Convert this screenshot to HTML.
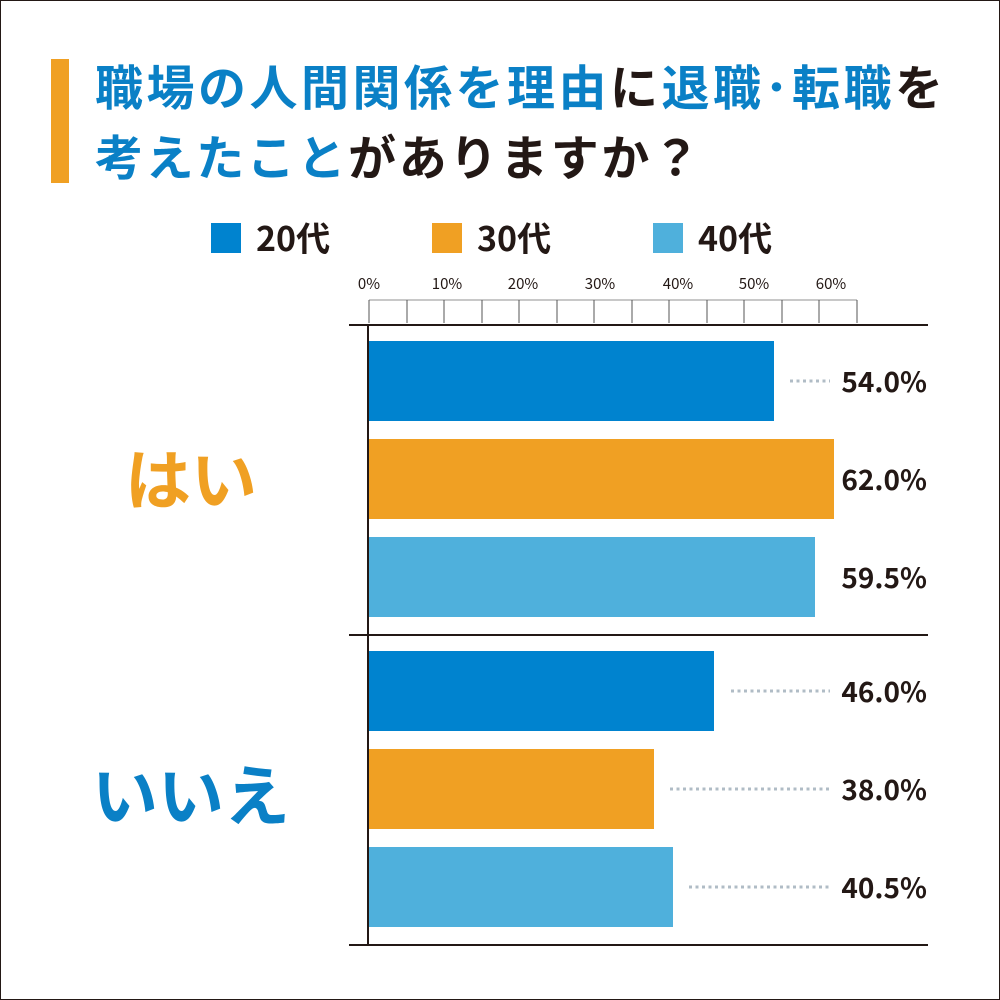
<!DOCTYPE html>
<html><head><meta charset="utf-8"><style>
html,body{margin:0;padding:0;background:#fff}
svg{display:block}
text{font-family:"Noto Sans CJK JP","Liberation Sans",sans-serif}
</style></head><body>
<svg width="1000" height="1000" viewBox="0 0 1000 1000" xmlns="http://www.w3.org/2000/svg">
<rect x="0.5" y="0.5" width="999" height="999" fill="#fff" stroke="#231815" stroke-width="1"/>
<rect x="51" y="59" width="18" height="124" fill="#f0a023"/>
<text x="95" y="105" font-size="48" font-weight="bold" fill="#0a80c6" textLength="848" lengthAdjust="spacing">職場の人間関係を理由<tspan fill="#231815">に</tspan>退職･転職<tspan fill="#231815">を</tspan></text>
<text x="95" y="175" font-size="48" font-weight="bold" fill="#0a80c6" textLength="605" lengthAdjust="spacing">考えたこと<tspan fill="#231815">がありますか？</tspan></text>
<rect x="211" y="223" width="30" height="30" fill="#0083cf"/>
<text x="256" y="251" font-size="34" font-weight="bold" fill="#231815">20代</text>
<rect x="432" y="223" width="30" height="30" fill="#f0a023"/>
<text x="477" y="251" font-size="34" font-weight="bold" fill="#231815">30代</text>
<rect x="653" y="223" width="30" height="30" fill="#4fb0dc"/>
<text x="698" y="251" font-size="34" font-weight="bold" fill="#231815">40代</text>
<g font-size="15" fill="#231815" text-anchor="middle">
<text x="369" y="289">0%</text><text x="447" y="289">10%</text><text x="523" y="289">20%</text><text x="600" y="289">30%</text><text x="678" y="289">40%</text><text x="754" y="289">50%</text><text x="831" y="289">60%</text>
</g>
<line x1="369" y1="300" x2="857" y2="300" stroke="#b5b5b5" stroke-width="1.5"/>
<g stroke="#555" stroke-width="1">
<line x1="369" y1="300" x2="369" y2="323"/><line x1="407" y1="300" x2="407" y2="323"/><line x1="444" y1="300" x2="444" y2="323"/><line x1="482" y1="300" x2="482" y2="323"/><line x1="519" y1="300" x2="519" y2="323"/><line x1="557" y1="300" x2="557" y2="323"/><line x1="594" y1="300" x2="594" y2="323"/><line x1="632" y1="300" x2="632" y2="323"/><line x1="669" y1="300" x2="669" y2="323"/><line x1="707" y1="300" x2="707" y2="323"/><line x1="744" y1="300" x2="744" y2="323"/><line x1="782" y1="300" x2="782" y2="323"/><line x1="819" y1="300" x2="819" y2="323"/><line x1="857" y1="300" x2="857" y2="323"/>
</g>
<g stroke="#231815" stroke-width="2">
<line x1="349" y1="325" x2="928" y2="325"/><line x1="349" y1="635" x2="928" y2="635"/><line x1="349" y1="945" x2="928" y2="945"/><line x1="368" y1="325" x2="368" y2="945"/>
</g>
<rect x="369" y="341" width="405" height="80" fill="#0083cf"/>
<rect x="369" y="439" width="465" height="80" fill="#f0a023"/>
<rect x="369" y="537" width="446" height="80" fill="#4fb0dc"/>
<rect x="369" y="651" width="345" height="80" fill="#0083cf"/>
<rect x="369" y="749" width="285" height="80" fill="#f0a023"/>
<rect x="369" y="847" width="304" height="80" fill="#4fb0dc"/>
<g stroke="#b0bcc6" stroke-width="3" stroke-dasharray="3,3.5">
<line x1="790" y1="381" x2="830" y2="381"/>
<line x1="731" y1="691" x2="830" y2="691"/>
<line x1="670" y1="789" x2="830" y2="789"/>
<line x1="689" y1="887" x2="830" y2="887"/>
</g>
<g font-size="28" font-weight="bold" fill="#231815" text-anchor="end">
<text x="927" y="392">54.0%</text>
<text x="927" y="490">62.0%</text>
<text x="927" y="588">59.5%</text>
<text x="927" y="702">46.0%</text>
<text x="927" y="800">38.0%</text>
<text x="927" y="898">40.5%</text>
</g>
<text x="191" y="504" font-size="66" font-weight="bold" fill="#f0a023" text-anchor="middle">はい</text>
<text x="191" y="820" font-size="66" font-weight="bold" fill="#0a80c6" text-anchor="middle">いいえ</text>
</svg>
</body></html>
